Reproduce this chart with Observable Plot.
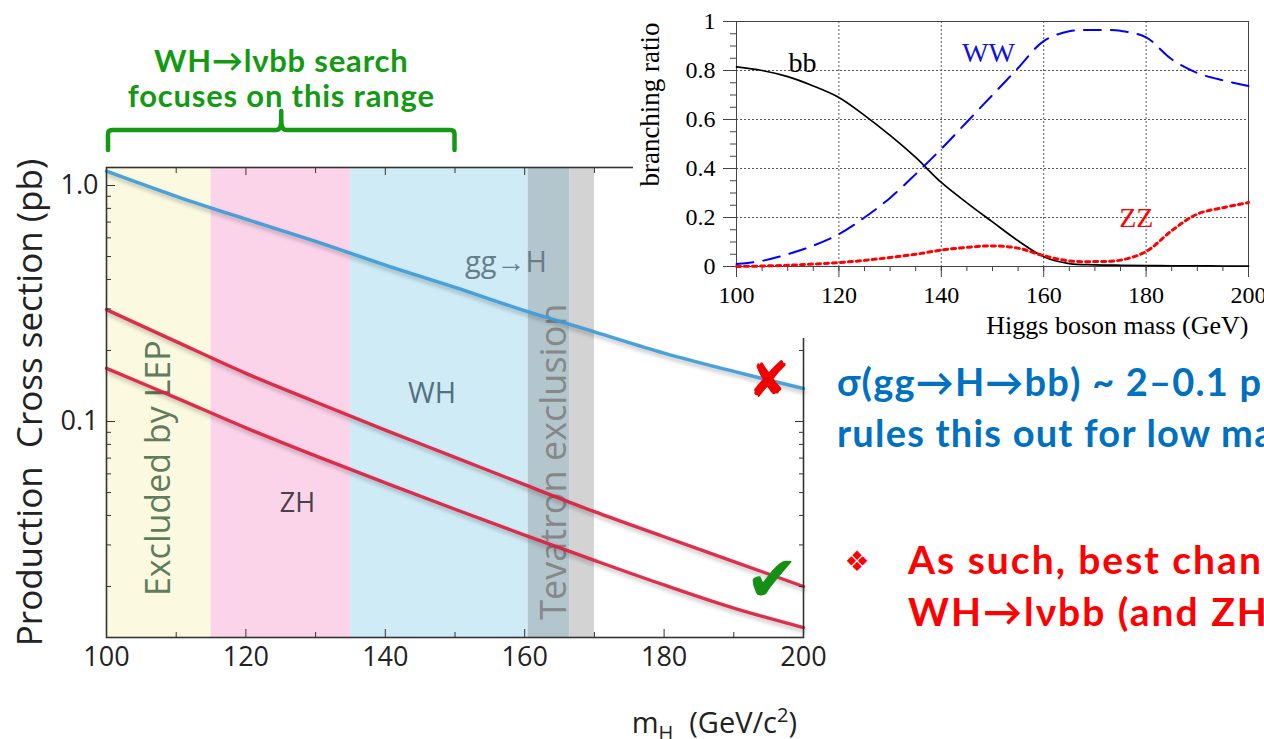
<!DOCTYPE html>
<html>
<head>
<meta charset="utf-8">
<script src="https://cdn.jsdelivr.net/npm/d3@7"></script>
<script src="https://cdn.jsdelivr.net/npm/@observablehq/plot@0.6"></script>
<style>
  html, body { margin: 0; padding: 0; background: #fff; width: 1264px; height: 739px; overflow: hidden; }
  #stage { position: relative; width: 1264px; height: 739px; overflow: hidden; }
  #main { position: absolute; left: 0; top: 0; }
  #inset { position: absolute; left: 633px; top: 0; }
  #notes { position: absolute; left: 0; top: 0; pointer-events: none; }
  .curve { filter: drop-shadow(1px 3px 2px rgba(0,0,0,0.28)); }
</style>
</head>
<body>
<div id="stage">
  <div id="main"></div>
  <div id="inset"></div>
  <svg id="notes" width="1264" height="739"></svg>
</div>
<script>
// ---- Higgs production cross sections (pb) at the Tevatron vs m_H (GeV/c^2) ----
const mass = [100, 110, 120, 130, 140, 150, 160, 170, 180, 190, 200];
const xsGGH = [1.15, 0.90, 0.72, 0.58, 0.46, 0.37, 0.295, 0.24, 0.195, 0.163, 0.138];
const xsWH  = [0.298, 0.218, 0.160, 0.121, 0.092, 0.0705, 0.054, 0.0415, 0.0325, 0.0255, 0.020];
const xsZH  = [0.168, 0.126, 0.094, 0.0715, 0.055, 0.0425, 0.033, 0.0258, 0.0203, 0.0162, 0.0134];

// Mass regions shaded behind the curves
const regionName = ["lep", "zh", "wh", "tev", "tev2"];
const regionFrom = [100, 115, 135, 160.5, 166.5];
const regionTo   = [115, 135, 160.5, 166.5, 170];

// Region / process labels
const regionLabel = ["Excluded by LEP", "ZH", "WH", "gg→H", "Tevatron exclusion"];

// Axis ticks
const xMajor = [100, 120, 140, 160, 180, 200];
const xMinor = [110, 130, 150, 170, 190];
const yMajor = [0.1, 1];
const yMinor = [0.02, 0.03, 0.04, 0.05, 0.06, 0.07, 0.08, 0.09, 0.2, 0.3, 0.4, 0.5, 0.6, 0.7, 0.8, 0.9];
const yLabels = ["0.1", "1.0"];

// ---- Higgs branching ratios vs mass (GeV) ----
const brMass = [100, 105, 110, 115, 120, 125, 130, 135, 140, 145, 150, 155, 160, 165, 170, 175, 180, 185, 190, 195, 200];
const brBB = [0.815, 0.80, 0.775, 0.737, 0.69, 0.617, 0.535, 0.445, 0.343, 0.26, 0.182, 0.105, 0.04, 0.012, 0.007, 0.005, 0.004, 0.003, 0.003, 0.002, 0.002];
const brWW = [0.01, 0.023, 0.05, 0.085, 0.132, 0.20, 0.28, 0.377, 0.48, 0.59, 0.70, 0.81, 0.92, 0.96, 0.965, 0.962, 0.935, 0.846, 0.79, 0.76, 0.737];
const brZZ = [0.0, 0.002, 0.005, 0.01, 0.016, 0.025, 0.037, 0.05, 0.067, 0.078, 0.084, 0.075, 0.044, 0.023, 0.02, 0.026, 0.061, 0.146, 0.214, 0.24, 0.261];
const brChannels = ["bb", "WW", "ZZ"];
const brGrid = [120, 140, 160, 180];
const brYGrid = [0.2, 0.4, 0.6, 0.8];
const brYTicks = [0, 0.2, 0.4, 0.6, 0.8, 1];
const brXMinor = d3.range(100, 201, 5);
const brYMinor = d3.range(0, 1.0001, 0.05).map(v => +v.toFixed(2));

// ---------------- main cross-section chart ----------------
const regions = regionName.map((name, i) => ({name, from: regionFrom[i], to: regionTo[i]}));
const regionFill = {lep: "#FBFAE0", zh: "#FCD4EA", wh: "#CEEBF6", tev: "#B3C6CE", tev2: "#D3D3D3"};

const procs = [["gg→H", xsGGH], ["WH", xsWH], ["ZH", xsZH]];
const xsRows = procs.flatMap(([proc, vals]) => mass.map((m, i) => ({proc, m, xs: vals[i]})));
const procColor = {"gg→H": "#3C9BD8", "WH": "#DC1E3E", "ZH": "#DC1E3E"};

// label anchors in data coordinates
const labelRows = [
  {text: regionLabel[0], m: (regionFrom[0] + regionTo[0]) / 2, v: 0.0634, rot: -90, size: 34, color: "#5F7C5C"},
  {text: regionLabel[1], m: 127.4, v: 0.0449, rot: 0, size: 27, color: "#4A4148"},
  {text: regionLabel[2], m: 146.7, v: 0.131, rot: 0, size: 29, color: "#557080"},
  {text: regionLabel[3], m: 157.3, v: 0.472, rot: 0, size: 29, color: "#667E8C"},
  {text: regionLabel[4], m: 164.3, v: 0.0676, rot: -90, size: 36, color: "#878787"}
];

const noText = () => "";
const mainPlot = Plot.plot({
  width: 850,
  height: 739,
  marginLeft: 106,
  marginRight: 47,
  marginTop: 167,
  marginBottom: 102,
  x: {domain: [100, 200], label: null},
  y: {type: "log", domain: [0.01216, 1.192], label: null},
  style: {fontFamily: "'Open Sans', sans-serif", background: "transparent", color: "#222", overflow: "visible"},
  marks: [
    Plot.rect(regions, {x1: "from", x2: "to", fill: d => regionFill[d.name]}),
    Plot.text(labelRows, {x: "m", y: "v", text: "text", rotate: "rot", fontSize: "size", fill: "color"}),
    Plot.line(xsRows, {x: "m", y: "xs", z: "proc", stroke: d => procColor[d.proc], strokeWidth: 3.4, curve: "catmull-rom", strokeOpacity: 0.92}),
    // tick labels
    Plot.axisX({anchor: "bottom", ticks: xMajor, tickSize: 0, tickPadding: 9, fontSize: 27, label: null, tickFormat: d => String(d)}),
    Plot.axisY({anchor: "left", ticks: yMajor, tickSize: 0, tickPadding: 8, fontSize: 27, label: null,
      tickFormat: d => yLabels[yMajor.indexOf(d)]}),
    // inward ticks on all four sides
    Plot.axisX({anchor: "bottom", ticks: xMajor, tickSize: -8, tickFormat: noText, label: null, stroke: "#333"}),
    Plot.axisX({anchor: "bottom", ticks: xMinor, tickSize: -5, tickFormat: noText, label: null, stroke: "#333"}),
    Plot.axisX({anchor: "top", ticks: xMajor, tickSize: -7, tickFormat: noText, label: null, stroke: "#333"}),
    Plot.axisX({anchor: "top", ticks: xMinor, tickSize: -5, tickFormat: noText, label: null, stroke: "#333"}),
    Plot.axisY({anchor: "left", ticks: yMajor, tickSize: -9, tickFormat: noText, label: null, stroke: "#333"}),
    Plot.axisY({anchor: "left", ticks: yMinor, tickSize: -5, tickFormat: noText, label: null, stroke: "#333"}),
    Plot.axisY({anchor: "right", ticks: yMajor, tickSize: -9, tickFormat: noText, label: null, stroke: "#333"}),
    Plot.axisY({anchor: "right", ticks: yMinor, tickSize: -5, tickFormat: noText, label: null, stroke: "#333"}),
    Plot.frame({stroke: "#333", strokeWidth: 1.6}),
    // y-axis title
    Plot.text(["Production  Cross section (pb)"], {frameAnchor: "left", dx: -76, rotate: -90, fontSize: 35,
      fill: "#222", textAnchor: "middle", lineAnchor: "middle"})
  ]
});
d3.select(mainPlot).selectAll("g[aria-label='line']").attr("class", "curve");
document.getElementById("main").appendChild(mainPlot);

// ---------------- branching-ratio inset ----------------
const brVals = {bb: brBB, WW: brWW, ZZ: brZZ};
const brRows = brChannels.flatMap(ch => brMass.map((m, i) => ({ch, m, br: brVals[ch][i]})));
const brStyle = {
  bb: {stroke: "#000", dash: null, width: 1.7},
  WW: {stroke: "#0000FF", dash: "17,10", width: 2},
  ZZ: {stroke: "#FF0000", dash: "4,4", width: 3}
};
const brLabelRows = [
  {text: "bb", m: 112.9, v: 0.832, color: "#000"},
  {text: "WW", m: 149.2, v: 0.87, color: "#1010E0"},
  {text: "ZZ", m: 178.1, v: 0.196, color: "#FF0000"}
];

const inset = Plot.plot({
  width: 631,
  height: 338,
  marginLeft: 103,
  marginRight: 16,
  marginTop: 21,
  marginBottom: 72,
  x: {domain: [100, 200], label: null},
  y: {domain: [0, 1], label: null},
  style: {fontFamily: "'Liberation Serif', 'Times New Roman', serif", background: "#fff", color: "#000", overflow: "visible"},
  marks: [
    Plot.gridX(brGrid, {stroke: "#333", strokeOpacity: 0.9, strokeDasharray: "2,2", strokeWidth: 0.9}),
    Plot.gridY(brYGrid, {stroke: "#333", strokeOpacity: 0.9, strokeDasharray: "2,2", strokeWidth: 0.9}),
    Plot.axisX({anchor: "bottom", ticks: xMajor, tickSize: 11, tickPadding: 8, fontSize: 24, label: null, tickFormat: d => String(d), stroke: "#444"}),
    Plot.axisX({anchor: "bottom", ticks: brXMinor, tickSize: 5, tickFormat: noText, label: null, stroke: "#444"}),
    Plot.axisY({anchor: "left", ticks: brYTicks, tickSize: 13, tickPadding: 8, fontSize: 24, label: null,
      tickFormat: d => (d === 0 ? "0" : d === 1 ? "1" : d.toFixed(1)), stroke: "#444"}),
    Plot.axisY({anchor: "left", ticks: brYMinor, tickSize: 6, tickFormat: noText, label: null, stroke: "#444"}),
    Plot.frame({stroke: "#444", strokeWidth: 1}),
    ...brChannels.map(ch => Plot.line(brRows.filter(d => d.ch === ch), {
      x: "m", y: "br", stroke: brStyle[ch].stroke, strokeWidth: brStyle[ch].width,
      strokeDasharray: brStyle[ch].dash, curve: "catmull-rom"
    })),
    Plot.text(brLabelRows, {x: "m", y: "v", text: "text", fill: "color", fontSize: 28}),
    Plot.text(["branching ratio"], {frameAnchor: "top-left", rotate: -90, dx: -86, dy: 83, fontSize: 27,
      textAnchor: "middle", lineAnchor: "middle", fill: "#000"}),
    Plot.text(["Higgs boson mass (GeV)"], {frameAnchor: "bottom-right", textAnchor: "end", dy: 59, fontSize: 26, lineAnchor: "middle", fill: "#000"})
  ]
});
document.getElementById("inset").appendChild(inset);

// ---------------- slide annotations ----------------
const notes = d3.select("#notes");
const sans = "Lato, 'Open Sans', sans-serif";

// search window bracket over 100–150 GeV, aligned to the chart's x scale
const xs = mainPlot.scale("x");
const focusRange = [100, 150];
const bx0 = xs.apply(focusRange[0]) + 2, bx1 = xs.apply(focusRange[1]), bxm = (bx0 + bx1) / 2;
notes.append("path")
  .attr("d", `M${bx0},150 V134 Q${bx0},130 ${bx0 + 4},130 H${bxm - 5} Q${bxm},130 ${bxm},120 V111 M${bxm},120 Q${bxm},130 ${bxm + 5},130 H${bx1 - 4} Q${bx1},130 ${bx1},134 V150`)
  .attr("fill", "none").attr("stroke", "#129A12").attr("stroke-width", 4.5).attr("stroke-linecap", "round");

const green = "#129A12";
[["WH→lνbb search", 72], ["focuses on this range", 107]].forEach(([t, y]) => {
  notes.append("text").attr("x", bxm).attr("y", y).attr("text-anchor", "middle")
    .attr("font-family", sans).attr("font-weight", 700).attr("font-size", 31).attr("letter-spacing", 0.8)
    .attr("fill", green).text(t);
});

// verdict marks next to the curve ends
notes.append("text").attr("x", 769).attr("y", 397).attr("text-anchor", "middle")
  .attr("font-family", "'DejaVu Sans', sans-serif").attr("font-weight", 700).attr("font-size", 50).attr("fill", "#F00000")
  .text("✘");
notes.append("text").attr("x", 772).attr("y", 601).attr("text-anchor", "middle")
  .attr("font-family", "'DejaVu Sans', sans-serif").attr("font-weight", 700).attr("font-size", 64).attr("fill", "#159015")
  .text("✔");

// text block on the right
const blue = "#0070C0", red = "#FF0000";
[["σ(gg→H→bb) ~ 2–0.1 pb", 396], ["rules this out for low mass", 447]].forEach(([t, y]) => {
  notes.append("text").attr("x", 837).attr("y", y)
    .attr("font-family", sans).attr("font-weight", 700).attr("font-size", 38).attr("letter-spacing", 1.2)
    .attr("fill", blue).text(t);
});
notes.append("text").attr("x", 857).attr("y", 571).attr("text-anchor", "middle")
  .attr("font-family", "'DejaVu Sans', sans-serif").attr("font-size", 28).attr("fill", red)
  .text("❖");
[["As such, best chance is", 574], ["WH→lνbb (and ZH→llbb)", 626]].forEach(([t, y]) => {
  notes.append("text").attr("x", 908).attr("y", y)
    .attr("font-family", sans).attr("font-weight", 700).attr("font-size", 39).attr("letter-spacing", 2)
    .attr("fill", red).text(t);
});

// x-axis title with sub/superscript
const xt = notes.append("text").attr("x", 797).attr("y", 733).attr("text-anchor", "end")
  .attr("font-family", "'Open Sans', sans-serif").attr("font-size", 29).attr("fill", "#222");
xt.append("tspan").text("m");
xt.append("tspan").attr("dy", 7).attr("font-size", 20).text("H");
xt.append("tspan").attr("dy", -7).attr("dx", 16).text("(GeV/c");
xt.append("tspan").attr("dy", -11).attr("font-size", 20).text("2");
xt.append("tspan").attr("dy", 11).text(")");
</script>
</body>
</html>
